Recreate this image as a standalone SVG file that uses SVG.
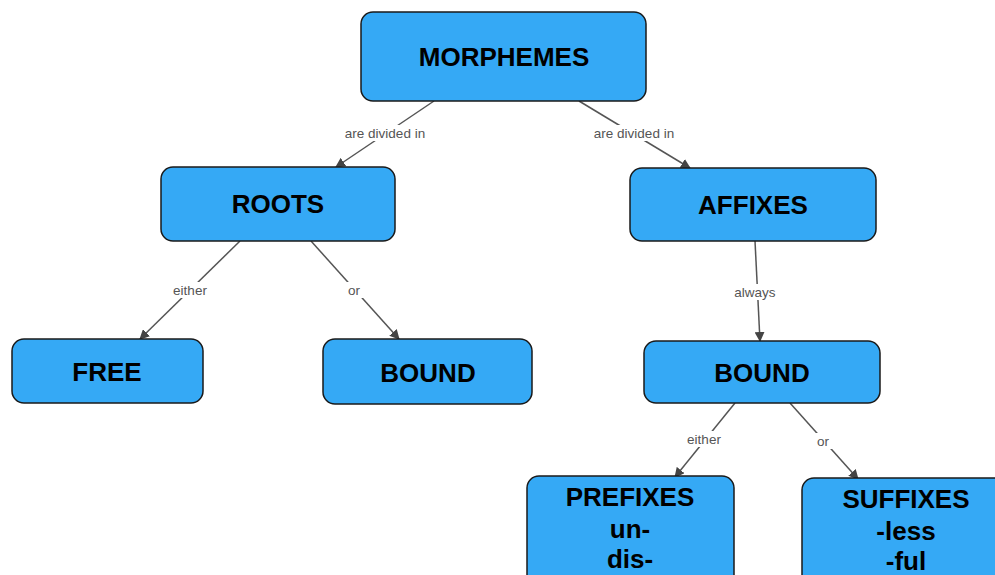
<svg xmlns="http://www.w3.org/2000/svg" width="995" height="575" viewBox="0 0 995 575">
<defs>
<style>
.node rect{fill:#35A9F5;stroke:#1a1a1a;stroke-width:1.5}
.node text{font-family:"Liberation Sans",Arial,sans-serif;font-weight:bold;font-size:26px;fill:#000;text-anchor:middle}
.edge line{stroke:#555;stroke-width:1.5;marker-end:url(#arr)}
.lbl rect{fill:#fff}
.lbl text{font-family:"Liberation Sans",Arial,sans-serif;font-size:13.5px;fill:#555;text-anchor:middle}
</style>
<marker id="arr" viewBox="0 0 10 10" refX="9" refY="5" markerWidth="10" markerHeight="10" markerUnits="userSpaceOnUse" orient="auto">
<path d="M0,0 L10,5 L0,10 z" fill="#444"/>
</marker>
</defs>
<rect width="995" height="575" fill="#fff"/>
<g id="connectors">
<g class="edge">
<line x1="434" y1="101" x2="336" y2="167"/>
<line x1="579" y1="101" x2="690" y2="168"/>
<line x1="240" y1="241" x2="140" y2="339"/>
<line x1="311" y1="241" x2="399" y2="339"/>
<line x1="755" y1="241" x2="760" y2="341"/>
<line x1="735" y1="403" x2="675" y2="477"/>
<line x1="790" y1="403" x2="858" y2="479"/>
</g>
<g class="lbl">
<rect x="340" y="125" width="90" height="16"/><text x="385" y="138">are divided in</text>
<rect x="589" y="125" width="90" height="16"/><text x="634" y="138">are divided in</text>
<rect x="169" y="282" width="42" height="16"/><text x="190" y="295">either</text>
<rect x="343" y="282" width="22" height="16"/><text x="354" y="295">or</text>
<rect x="730" y="284" width="50" height="16"/><text x="755" y="297">always</text>
<rect x="683" y="431" width="42" height="16"/><text x="704" y="444">either</text>
<rect x="812" y="433" width="22" height="16"/><text x="823" y="446">or</text>
</g>
</g>
<g id="morphemes" class="node"><rect x="361" y="12" width="285" height="89" rx="12"/><text x="504" y="66">MORPHEMES</text></g>
<g id="roots" class="node"><rect x="161" y="167" width="234" height="74" rx="12"/><text x="278" y="213">ROOTS</text></g>
<g id="affixes" class="node"><rect x="630" y="168" width="246" height="73" rx="12"/><text x="753" y="214">AFFIXES</text></g>
<g id="free" class="node"><rect x="12" y="339" width="191" height="64" rx="12"/><text x="107" y="381">FREE</text></g>
<g id="bound-roots" class="node"><rect x="323" y="339" width="209" height="65" rx="12"/><text x="428" y="382">BOUND</text></g>
<g id="bound-affixes" class="node"><rect x="644" y="341" width="236" height="62" rx="12"/><text x="762" y="382">BOUND</text></g>
<g id="prefixes" class="node"><rect x="527" y="476" width="207" height="120" rx="12"/><text x="630" y="506">PREFIXES</text><text x="630" y="538">un-</text><text x="630" y="568">dis-</text></g>
<g id="suffixes" class="node"><rect x="802" y="478" width="210" height="120" rx="12"/><text x="906" y="508">SUFFIXES</text><text x="906" y="540">-less</text><text x="906" y="570">-ful</text></g>
</svg>
